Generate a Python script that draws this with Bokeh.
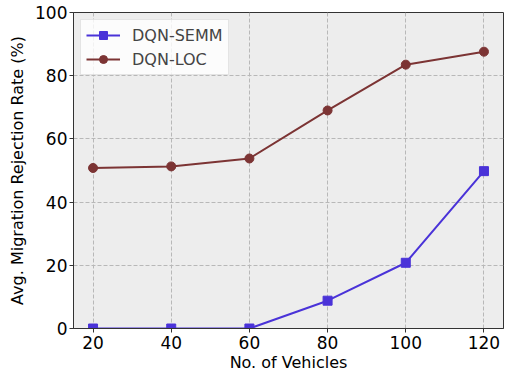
from bokeh.plotting import figure
from bokeh.models import Range1d, FixedTicker, Legend, LegendItem
from bokeh.embed import file_html
from bokeh.resources import INLINE

vehicles = [20, 40, 60, 80, 100, 120]
semm = [0.0, 0.0, 0.0, 8.8, 20.8, 49.8]
loc = [50.8, 51.3, 53.8, 69.0, 83.5, 87.6]
x_ticks = [20, 40, 60, 80, 100, 120]
y_ticks = [0, 20, 40, 60, 80, 100]

BLUE = "#4a33d8"
BROWN = "#7c3434"
FONT = "DejaVu Sans"

p = figure(width=505, height=374, output_backend="svg", toolbar_location=None,
           x_range=Range1d(15, 125), y_range=Range1d(0, 100),
           min_border_left=73, min_border_right=2, min_border_top=12, min_border_bottom=45)
p.background_fill_color = "#ededed"
p.border_fill_color = "white"
p.outline_line_color = "#333333"
p.outline_line_width = 1

for ax in (p.xaxis[0], p.yaxis[0]):
    ax.major_label_text_font = FONT
    ax.major_label_text_font_size = "17px"
    ax.major_label_text_color = "black"
    ax.axis_label_text_font = FONT
    ax.axis_label_text_font_size = "16px"
    ax.axis_label_text_font_style = "normal"
    ax.axis_label_text_color = "black"
    ax.minor_tick_line_color = None
    ax.major_tick_out = 4
    ax.major_tick_in = 0
    ax.axis_line_color = "#333333"
    ax.major_tick_line_color = "#333333"

p.xaxis.ticker = FixedTicker(ticks=x_ticks)
p.yaxis.ticker = FixedTicker(ticks=y_ticks)
p.xaxis.axis_label = "No. of Vehicles"
p.yaxis.axis_label = "Avg. Migration Rejection Rate (%)"
p.xaxis.major_label_standoff = 3
p.xaxis.axis_label_standoff = 1
p.yaxis.major_label_standoff = 2
p.yaxis.axis_label_standoff = 5

p.grid.grid_line_color = "#b8b8b8"
p.grid.grid_line_dash = "4 2"
p.grid.grid_line_width = 1

l1 = p.line(vehicles, semm, line_color=BLUE, line_width=2)
m1 = p.scatter(vehicles, semm, marker="square", size=9, fill_color=BLUE, line_color=BLUE)
l2 = p.line(vehicles, loc, line_color=BROWN, line_width=2)
m2 = p.scatter(vehicles, loc, marker="circle", size=9, fill_color=BROWN, line_color=BROWN)

legend = Legend(items=[LegendItem(label="DQN-SEMM", renderers=[l1, m1]),
                       LegendItem(label="DQN-LOC", renderers=[l2, m2])],
                location="top_left")
legend.label_text_font = FONT
legend.label_text_font_size = "16px"
legend.glyph_width = 34
legend.glyph_height = 20
legend.spacing = 4
legend.padding = 5
legend.margin = 7
legend.label_standoff = 12
legend.border_line_color = "#cccccc"
legend.border_line_width = 1
legend.background_fill_color = "white"
legend.background_fill_alpha = 0.8
p.add_layout(legend)

open("out.html", "w").write(file_html(p, INLINE))
